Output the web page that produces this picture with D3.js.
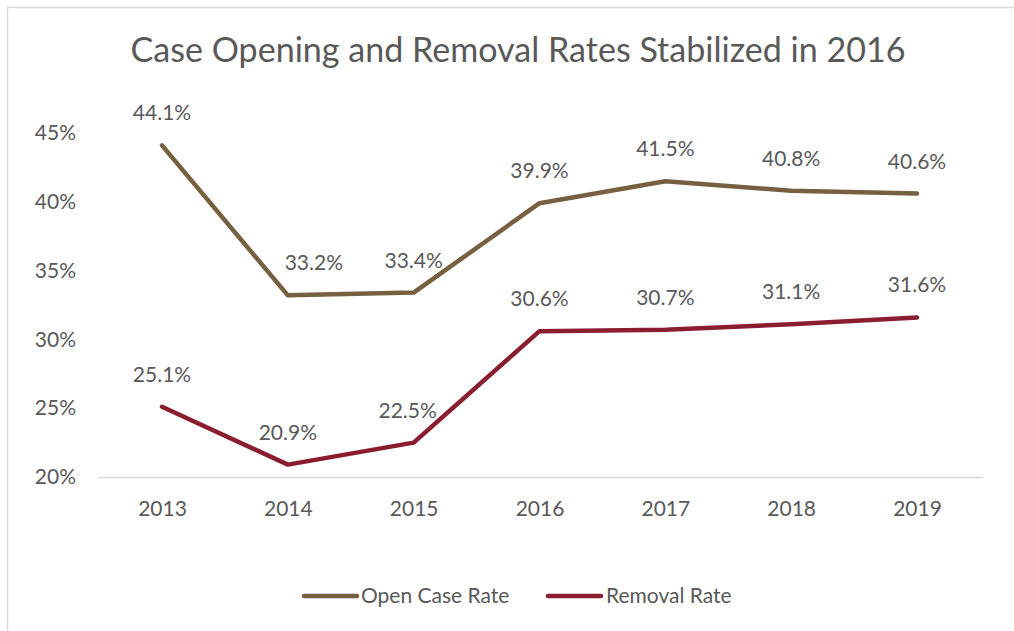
<!DOCTYPE html>
<html><head><meta charset="utf-8">
<script src="https://cdn.jsdelivr.net/npm/d3@7"></script>
<style>body{margin:0;background:#fff}svg{display:block}</style>
</head><body>
<svg id="c" width="1014" height="631"></svg>
<script>
const years = ["2013","2014","2015","2016","2017","2018","2019"];
const openCaseRate = [44.1, 33.2, 33.4, 39.9, 41.5, 40.8, 40.6];
const removalRate = [25.1, 20.9, 22.5, 30.6, 30.7, 31.1, 31.6];
const yTicks = [20, 25, 30, 35, 40, 45];
const seriesNames = ["Open Case Rate", "Removal Rate"];
const seriesColors = ["#76603f", "#8b1d31"];
const title = "Case Opening and Removal Rates Stabilized in 2016";

const svg = d3.select("#c");
const font = "Lato, 'Open Sans', sans-serif";
const textColor = "#595959";

svg.append("rect").attr("x", 7.5).attr("y", 7.5).attr("width", 1014).attr("height", 640)
  .attr("fill", "#fff").attr("stroke", "#d9d9d9").attr("stroke-width", 1.5);

const x = d3.scalePoint().domain(years).range([162, 917]);
const y = d3.scaleLinear().domain([20, 45]).range([477, 133]);

svg.append("text").attr("x", 518).attr("y", 62).attr("text-anchor", "middle")
  .attr("font-family", font).attr("font-size", 34).attr("fill", textColor)
  .attr("textLength", 775).attr("lengthAdjust", "spacingAndGlyphs").text(title);

// y axis labels
const yAxis = d3.axisLeft(y).tickValues(yTicks).tickFormat(d => d + "%").tickSize(0).tickPadding(0);
const yg = svg.append("g").attr("transform", "translate(76,0)").call(yAxis);
yg.select(".domain").remove();
yg.selectAll("text").attr("font-family", font).attr("font-size", 21).attr("fill", textColor);

// x axis
const xAxis = d3.axisBottom(x).tickSize(0).tickPadding(24);
const xg = svg.append("g").attr("transform", "translate(0,477)").call(xAxis);
xg.select(".domain").remove();
xg.selectAll("text").attr("font-family", font).attr("font-size", 21).attr("fill", textColor);
svg.append("line").attr("x1", 98).attr("x2", 983).attr("y1", 477.5).attr("y2", 477.5)
  .attr("stroke", "#d9d9d9").attr("stroke-width", 1.5);

const line = d3.line().x((d, i) => x(years[i])).y(d => y(d));
const allSeries = [openCaseRate, removalRate];
// horizontal nudge of a few labels to keep them off the lines
const labelNudge = [[0, 26, 0, 0, 0, 0, 0], [0, 0, -6, 0, 0, 0, 0]];
allSeries.forEach((s, k) => {
  svg.append("path").datum(s).attr("d", line).attr("fill", "none")
    .attr("stroke", seriesColors[k]).attr("stroke-width", 4.5)
    .attr("stroke-linejoin", "round").attr("stroke-linecap", "round");
  svg.selectAll(null).data(s).enter().append("text")
    .attr("x", (d, i) => x(years[i]) + labelNudge[k][i]).attr("y", d => y(d) - 25)
    .attr("text-anchor", "middle").attr("font-family", font).attr("font-size", 21)
    .attr("fill", textColor).text(d => d.toFixed(1) + "%");
});

// legend
const leg = [{x1: 304, x2: 357, tx: 361}, {x1: 548, x2: 601, tx: 606}];
leg.forEach((l, k) => {
  svg.append("line").attr("x1", l.x1).attr("x2", l.x2).attr("y1", 596).attr("y2", 596)
    .attr("stroke", seriesColors[k]).attr("stroke-width", 4.5).attr("stroke-linecap", "round");
  svg.append("text").attr("x", l.tx).attr("y", 603).attr("font-family", font).attr("font-size", 21)
    .attr("fill", textColor).text(seriesNames[k]);
});
</script>
</body></html>
